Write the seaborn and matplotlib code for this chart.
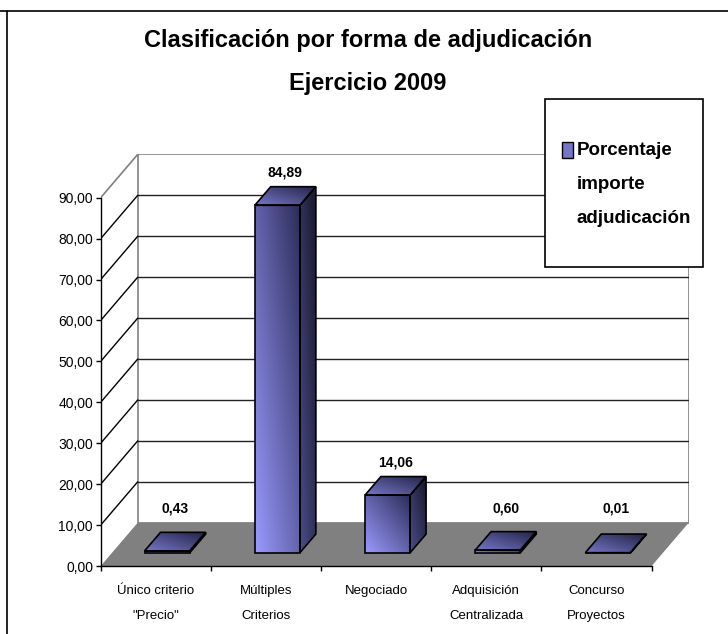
import numpy as np
import matplotlib
matplotlib.use('Agg')
import matplotlib.pyplot as plt
from matplotlib.patches import Polygon, Rectangle
from matplotlib.lines import Line2D
from matplotlib.colors import to_rgb
import seaborn as sns

# ---------------- data ----------------
categories = ['Único criterio\n"Precio"', 'Múltiples\nCriterios', 'Negociado',
              'Adquisición\nCentralizada', 'Concurso\nProyectos']
values = [0.43, 84.89, 14.06, 0.60, 0.01]
series_label = 'Porcentaje\nimporte\nadjudicación'
y_ticks = [0, 10, 20, 30, 40, 50, 60, 70, 80, 90]
title = 'Clasificación por forma de adjudicación\nEjercicio 2009'

# ---------------- 3D look (Excel style) ----------------
DX, DY = 0.336, 10.58      # depth of the plot box, in data units
F, BD = 0.307, 0.43        # bar front position / bar depth (fraction of DX, DY)
W = 0.41                   # bar width

FRONT = ('#9A9AFF', '#2C2C58')
SIDE = ('#4C4C88', '#17172C')
TOP = ('#7676C8', '#222246')


def fmt(v):
    return f'{v:.2f}'.replace('.', ',')


def shade(ax, clip, box, cols, z):
    """diagonal gradient (light bottom-left -> dark top-right) clipped to a patch"""
    c0, c1 = np.array(to_rgb(cols[0])), np.array(to_rgb(cols[1]))
    u = np.linspace(0, 1, 60)
    U, V = np.meshgrid(u, u)
    t = ((U + V) / 2)[..., None]
    im = ax.imshow(c0 + (c1 - c0) * t, extent=box, origin='lower', aspect='auto',
                   interpolation='bilinear', zorder=z)
    im.set_clip_path(clip)


sns.set_style('ticks')
plt.rcParams['font.family'] = ['Liberation Sans', 'DejaVu Sans']
for k in ['text.color', 'axes.labelcolor', 'xtick.color', 'ytick.color']:
    plt.rcParams[k] = 'black'

fig = plt.figure(figsize=(7.28, 6.34), dpi=100)
ax = fig.add_axes([100.7 / 728, 68 / 634, 588 / 728, 411.6 / 634])

sns.barplot(x=categories, y=values, color=FRONT[0], width=W,
            edgecolor='black', linewidth=1.2, ax=ax, zorder=3)
bars = list(ax.patches)

# bars: move to their depth, add side + top faces
for bar, v in zip(bars, values):
    bar.set_x(bar.get_x() + F * DX)
    bar.set_y(F * DY)
    x0 = bar.get_x()
    x1 = x0 + bar.get_width()
    y0 = F * DY
    y1 = y0 + bar.get_height()
    ddx, ddy = BD * DX, BD * DY

    bar.set_facecolor('none')
    shade(ax, bar, [x0, x1, y0, y1], FRONT, 2.9)

    side = Polygon([(x1, y0), (x1 + ddx, y0 + ddy), (x1 + ddx, y1 + ddy), (x1, y1)],
                   closed=True, fc='none', ec='black', lw=1.2, zorder=3)
    ax.add_patch(side)
    shade(ax, side, [x1, x1 + ddx, y0, y1 + ddy], SIDE, 2.9)

    top = Polygon([(x0, y1), (x1, y1), (x1 + ddx, y1 + ddy), (x0 + ddx, y1 + ddy)],
                  closed=True, fc='none', ec='black', lw=1.2, zorder=3)
    ax.add_patch(top)
    shade(ax, top, [x0, x1 + ddx, y1, y1 + ddy], TOP, 2.9)

n = len(categories)
left, right = -0.5, n - 0.5

# floor, back wall, gridlines
ax.add_patch(Polygon([(left, 0), (right, 0), (right + DX, DY), (left + DX, DY)],
                     closed=True, fc='#808080', ec='none', zorder=1))
ax.add_patch(Rectangle((left + DX, DY), right - left, y_ticks[-1], fc='white',
                       ec='#808080', lw=1.2, zorder=0.5))
for t in y_ticks[1:-1]:
    ax.plot([left + DX, right + DX], [t + DY, t + DY], color='#222222', lw=1, zorder=0.8)
    ax.plot([left, left + DX], [t, t + DY], color='black', lw=1, zorder=0.8)
ax.plot([left, left + DX], [y_ticks[-1], y_ticks[-1] + DY], color='#808080', lw=1.2, zorder=0.8)

# value labels
for i, v in enumerate(values):
    xl = i + (F + BD / 2) * DX
    yl = max(v + (F + BD) * DY, DY)
    ax.annotate(fmt(v), (xl, yl), xytext=(0, 5), textcoords='offset points',
                ha='center', va='bottom', fontsize=10, fontweight='bold', zorder=5)

# axes
ax.set_xlim(left, right + DX)
ax.set_ylim(0, y_ticks[-1] + DY)
for s in ['top', 'right']:
    ax.spines[s].set_visible(False)
ax.spines['left'].set_bounds(0, y_ticks[-1])
ax.spines['bottom'].set_bounds(left, right)
for s in ['left', 'bottom']:
    ax.spines[s].set_color('black')
    ax.spines[s].set_linewidth(1)

ax.set_yticks(y_ticks, [fmt(t) for t in y_ticks])
bounds = np.arange(n + 1) - 0.5
ax.set_xticks(bounds, [''] * len(bounds))
ax.set_xticks(range(n), categories, minor=True)
ax.tick_params(which='major', direction='out', length=3.5, width=1, color='black')
ax.tick_params(axis='x', which='minor', length=0, pad=14, labelsize=9.5)
ax.tick_params(axis='y', pad=2, labelsize=10)
for lab in ax.get_xticklabels(minor=True):
    lab.set_linespacing(2.4)
ax.set_xlabel('')
ax.set_ylabel('')

# title
fig.text(0.5055, 1 - 29 / 634, title, ha='center', va='top', fontsize=17,
         fontweight='bold', linespacing=2.12)

# legend box
fig.add_artist(Rectangle((545.3 / 728, 1 - 266.7 / 634), 158 / 728, 167.4 / 634,
                         transform=fig.transFigure, fc='white', ec='black', lw=1.2, zorder=5))
fig.add_artist(Rectangle((561.7 / 728, 1 - 158 / 634), 11 / 728, 16.3 / 634,
                         transform=fig.transFigure, fc='#7676C8', ec='black', lw=1, zorder=6))
fig.text(576.7 / 728, 1 - 142 / 634, series_label, ha='left', va='top', fontsize=13.5,
         fontweight='bold', linespacing=2.3, zorder=6)

# outer frame lines
fig.add_artist(Line2D([0, 1], [1 - 10.7 / 634] * 2, transform=fig.transFigure,
                      color='black', lw=1.2))
fig.add_artist(Line2D([7 / 728] * 2, [0, 1 - 10.7 / 634], transform=fig.transFigure,
                      color='black', lw=1.2))

fig.savefig('out.png', dpi=100)
